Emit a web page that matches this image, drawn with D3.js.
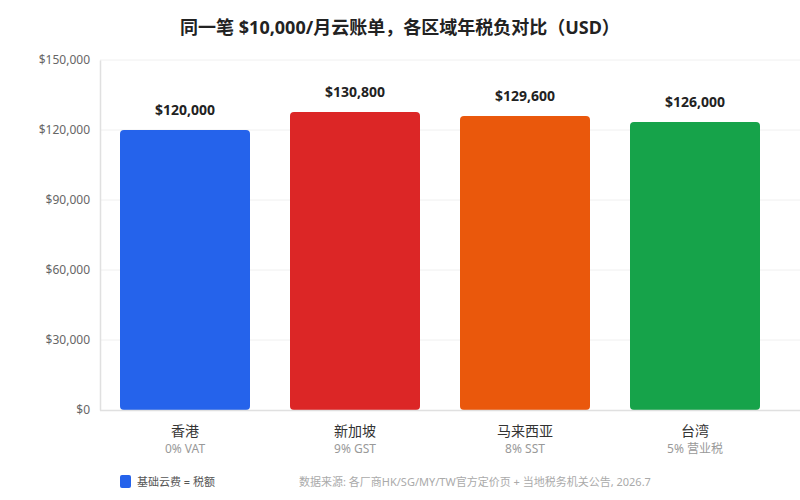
<!DOCTYPE html>
<html><head><meta charset="utf-8">
<script src="https://cdn.jsdelivr.net/npm/d3@7"></script>
<style>body{margin:0;background:#fff;font-family:"Noto Sans","Noto Sans CJK SC",sans-serif;}</style>
</head><body><svg id="c" width="800" height="500"></svg>
<script>
const regions = ["香港", "新加坡", "马来西亚", "台湾"];
const taxNotes = ["0% VAT", "9% GST", "8% SST", "5% 营业税"];
const barValues = [120000, 127700, 126000, 123400];
const totalLabels = [120000, 130800, 129600, 126000];
const colors = ["#2563eb", "#dc2626", "#ea580c", "#16a34a"];
const yTicks = [0, 30000, 60000, 90000, 120000, 150000];

const svg = d3.select("#c");
const font = '"Noto Sans","Noto Sans CJK SC",sans-serif';
const x = d3.scaleBand().domain(regions).range([100, 780]).paddingInner(40/170).paddingOuter(20/170);
const y = d3.scaleLinear().domain([0, 150000]).range([410, 60]);
const fmt = v => "$" + d3.format(",")(v);

svg.append("text").attr("x", 400).attr("y", 34).attr("text-anchor", "middle")
  .attr("font-family", font).attr("font-size", 18).attr("font-weight", "bold").attr("fill", "#222")
  .text("同一笔 $10,000/月云账单，各区域年税负对比（USD）");

// grid
svg.append("g").selectAll("line").data(yTicks.slice(1)).join("line")
  .attr("x1", 100).attr("x2", 800).attr("y1", d => y(d)).attr("y2", d => y(d))
  .attr("stroke", "#f0f0f0").attr("stroke-width", 1);

// y axis
const ya = svg.append("g").attr("transform", "translate(100,0)")
  .call(d3.axisLeft(y).tickValues(yTicks).tickFormat(fmt).tickSize(0).tickPadding(10));
ya.select(".domain").attr("stroke", "#e0e0e0").attr("stroke-width", 1.5);
ya.selectAll("text").attr("font-family", font).attr("font-size", 12).attr("fill", "#666");

// bars
svg.append("g").selectAll("path").data(regions).join("path")
  .attr("d", (d, i) => {
    const x0 = x(d), w = x.bandwidth(), y0 = y(barValues[i]), y1 = y(0), r = 4;
    return `M${x0},${y1-r} L${x0},${y0+r} Q${x0},${y0} ${x0+r},${y0} L${x0+w-r},${y0} Q${x0+w},${y0} ${x0+w},${y0+r} L${x0+w},${y1-r} Q${x0+w},${y1} ${x0+w-r},${y1} L${x0+r},${y1} Q${x0},${y1} ${x0},${y1-r} Z`;
  })
  .attr("fill", (d, i) => colors[i]);

// x axis
svg.append("line").attr("x1", 100).attr("x2", 800).attr("y1", 410.5).attr("y2", 410.5)
  .attr("stroke", "#e0e0e0").attr("stroke-width", 1.5);

// value labels
svg.append("g").selectAll("text").data(regions).join("text")
  .attr("x", d => x(d) + x.bandwidth() / 2)
  .attr("y", (d, i) => y(barValues[i]) - 15)
  .attr("text-anchor", "middle").attr("font-family", font).attr("font-size", 14)
  .attr("font-weight", "bold").attr("fill", "#222")
  .text((d, i) => fmt(totalLabels[i]));

// category labels
svg.append("g").selectAll("text").data(regions).join("text")
  .attr("x", d => x(d) + x.bandwidth() / 2).attr("y", 436)
  .attr("text-anchor", "middle").attr("font-family", font).attr("font-size", 14).attr("fill", "#333")
  .text(d => d);
svg.append("g").selectAll("text").data(taxNotes).join("text")
  .attr("x", (d, i) => x(regions[i]) + x.bandwidth() / 2).attr("y", 453)
  .attr("text-anchor", "middle").attr("font-family", font).attr("font-size", 12).attr("fill", "#999")
  .text(d => d);

// legend
svg.append("rect").attr("x", 120).attr("y", 475).attr("width", 11).attr("height", 13).attr("rx", 2)
  .attr("fill", colors[0]);
svg.append("text").attr("x", 137).attr("y", 486).attr("font-family", font).attr("font-size", 11)
  .attr("fill", "#555").text("基础云费 = 税额");
svg.append("text").attr("x", 299).attr("y", 486).attr("font-family", font).attr("font-size", 11)
  .attr("fill", "#aaa").text("数据来源: 各厂商HK/SG/MY/TW官方定价页 + 当地税务机关公告, 2026.7");
</script></body></html>
